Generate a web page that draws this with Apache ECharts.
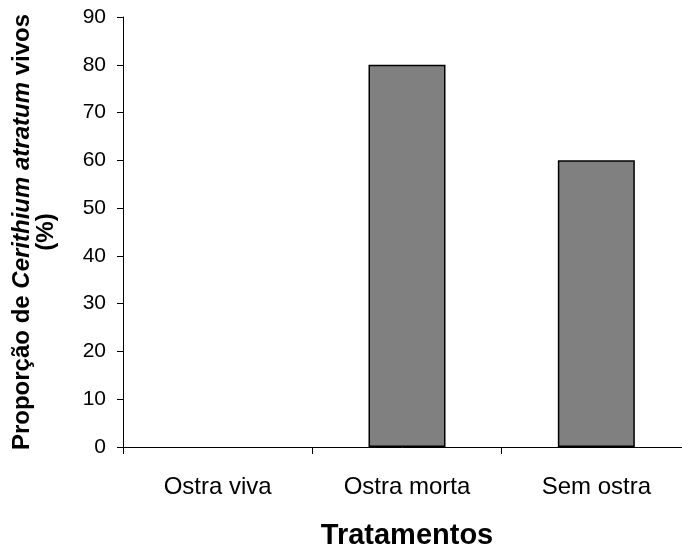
<!DOCTYPE html>
<html>
<head>
<meta charset="utf-8">
<script src="https://cdn.jsdelivr.net/npm/echarts@6/dist/echarts.min.js"></script>
<style>html,body{margin:0;padding:0;background:#fff}#c{width:682px;height:550px}</style>
</head>
<body>
<div id="c"></div>
<script>
const categories = ['Ostra viva', 'Ostra morta', 'Sem ostra'];
const values = [0, 80, 60];
const yTicks = { min: 0, max: 90, interval: 10 };

const chart = echarts.init(document.getElementById('c'), null, { renderer: 'canvas' });
const F = '"Liberation Sans", Arial, sans-serif';
const barData = values.map(v => v === 0 ? { value: v, itemStyle: { borderWidth: 0 } } : v);
chart.setOption({
  animation: false,
  backgroundColor: '#ffffff',
  grid: { left: 123, width: 568, top: 17, bottom: 103, containLabel: false, outerBoundsMode: 'none' },
  xAxis: {
    type: 'category',
    data: categories,
    name: 'Tratamentos',
    nameLocation: 'middle',
    nameGap: 74,
    nameTextStyle: { fontFamily: F, fontSize: 29, fontWeight: 'bold', color: '#000' },
    axisLine: { lineStyle: { color: '#000', width: 1 } },
    axisTick: { show: true, length: 7, lineStyle: { color: '#000' } },
    axisLabel: { fontFamily: F, fontSize: 24, color: '#000', margin: 28 },
    splitLine: { show: false }
  },
  yAxis: {
    type: 'value',
    min: yTicks.min, max: yTicks.max, interval: yTicks.interval,
    name: '{b|Proporção de }{bi|Cerithium atratum}{b| vivos}\n{b|(%)}',
    nameLocation: 'middle',
    nameRotate: 90,
    nameGap: 65,
    nameTextStyle: {
      fontFamily: F, fontSize: 24, fontWeight: 'bold', color: '#000', lineHeight: 24, align: 'center',
      rich: {
        b: { fontFamily: F, fontSize: 24, fontWeight: 'bold', color: '#000', lineHeight: 24 },
        bi: { fontFamily: F, fontSize: 24, fontWeight: 'bold', fontStyle: 'italic', color: '#000', lineHeight: 24 }
      }
    },
    axisLine: { show: true, lineStyle: { color: '#000', width: 1 } },
    axisTick: { show: true, length: 6, lineStyle: { color: '#000' } },
    axisLabel: { fontFamily: F, fontSize: 21, color: '#000', margin: 17 },
    splitLine: { show: false }
  },
  series: [{
    type: 'bar',
    data: barData,
    barWidth: 77,
    itemStyle: { color: '#808080', borderColor: '#000', borderWidth: 1.5 }
  }]
});
</script>
</body>
</html>
